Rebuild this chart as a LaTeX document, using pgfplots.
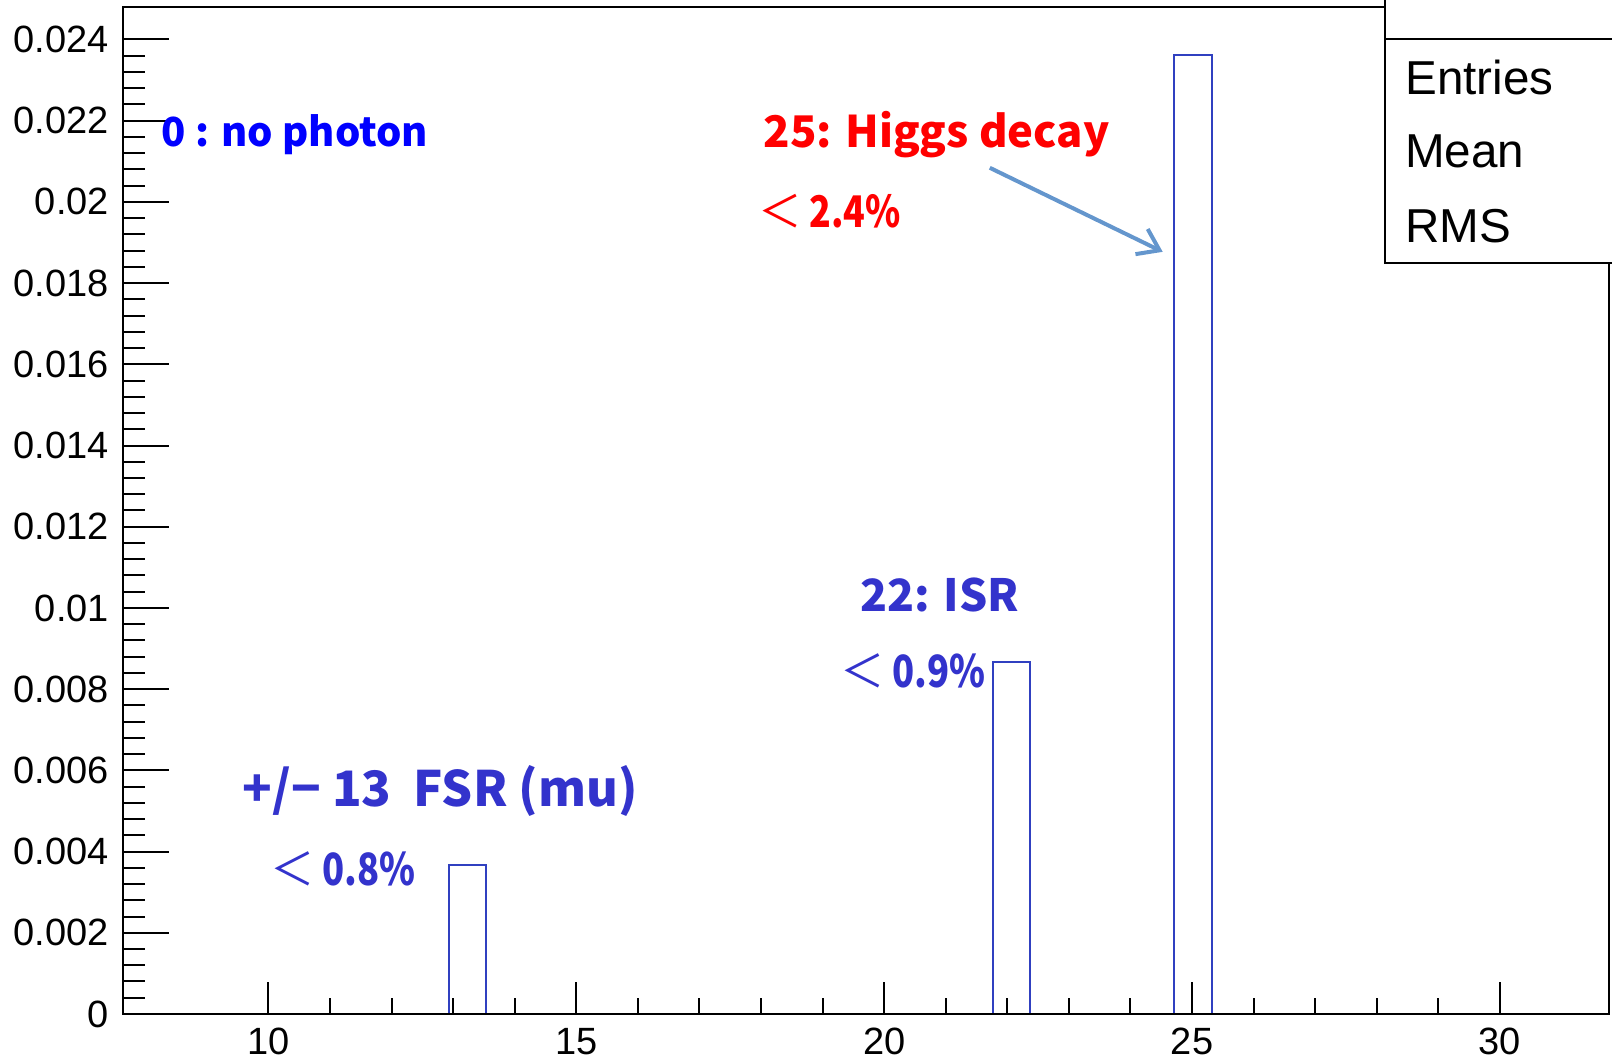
\documentclass[border=0pt]{standalone}
\usepackage{fontspec}
\setmainfont{Liberation Sans}
\newfontfamily\cjk{Noto Sans CJK JP}
\usepackage{graphicx}
\usepackage{pgfplots}
\pgfplotsset{compat=1.18}
\usetikzlibrary{arrows.meta}
\definecolor{barblue}{RGB}{48,64,192}
\definecolor{annblue}{RGB}{51,51,204}
\definecolor{arrowblue}{RGB}{100,150,205}

\begin{document}
\begin{tikzpicture}
\pgfplotsset{
 base/.style={
  scale only axis, width=371.5pt, height=251.75pt,
  xmin=7.64, xmax=31.77, ymin=0, ymax=0.0248,
  axis line style={line width=0.5pt},
  tick style={line width=0.5pt, black},
  tick align=inside, tick pos=left,
  ticklabel style={font=\fontsize{9.5}{10}\selectfont},
  scaled x ticks=false, scaled y ticks=false,
  /pgf/number format/assume math mode=true,
  clip=false,
 }}
\begin{axis}[base, name=ax,
  xtick=\empty,
  ytick={0,0.002,0.004,0.006,0.008,0.01,0.012,0.014,0.016,0.018,0.02,0.022,0.024},
  yticklabels={0,0.002,0.004,0.006,0.008,0.01,0.012,0.014,0.016,0.018,0.02,0.022,0.024},
  minor y tick num=4,
  major tick length=11.5pt, minor tick length=5.5pt,
]
\addplot[ybar, bar width=0.61, bar shift=0pt, draw=barblue, fill=none, line width=0.5pt]
  coordinates {(13.235,0.00367) (22.065,0.00866) (25.015,0.02361)};

\node[inner sep=0pt, anchor=base west, text=blue, font=\cjk\bfseries\fontsize{10}{12}\selectfont]
  at (axis cs:8.257,0.02136) {0 : no photon};
\node[inner sep=0pt, anchor=base west, text=red, font=\cjk\bfseries\fontsize{10.9}{12}\selectfont]
  at (axis cs:18.03,0.02134) {25: Higgs decay};
\node[inner sep=0pt, anchor=base west, text=red, font=\cjk\bfseries\fontsize{10.9}{12}\selectfont]
  at (axis cs:17.95,0.01936) {{\mdseries ＜}\,\scalebox{0.82}[1]{2.4\%}};
\node[inner sep=0pt, anchor=base west, text=annblue, font=\cjk\bfseries\fontsize{11.1}{12}\selectfont]
  at (axis cs:19.604,0.0099) {22: ISR};
\node[inner sep=0pt, anchor=base west, text=annblue, font=\cjk\bfseries\fontsize{11.1}{12}\selectfont]
  at (axis cs:19.28,0.00803) {{\mdseries ＜}\,\scalebox{0.82}[1]{0.9\%}};
\node[inner sep=0pt, anchor=base west, text=annblue, font=\cjk\bfseries\fontsize{12.2}{12}\selectfont]
  at (axis cs:9.572,0.00511) {+/− 13\ \ FSR (mu)};
\node[inner sep=0pt, anchor=base west, text=annblue, font=\cjk\bfseries\fontsize{11.1}{12}\selectfont]
  at (axis cs:10.03,0.00317) {{\mdseries ＜}\,\scalebox{0.82}[1]{0.8\%}};
\draw[arrowblue, line width=1pt, -{Straight Barb[length=5pt,width=7pt]}]
  (axis cs:21.715,0.02084) -- (axis cs:24.523,0.01877);

\coordinate (bl) at (axis cs:28.127,0.0185);
\coordinate (tr) at (axis cs:33,0.0252);
\coordinate (sep) at (axis cs:28.127,0.02402);
\coordinate (t1) at (axis cs:28.45,0.02264);
\coordinate (t2) at (axis cs:28.45,0.02084);
\coordinate (t3) at (axis cs:28.45,0.01899);
\end{axis}
\begin{axis}[base,
  ytick=\empty,
  xtick={10,15,20,25,30}, xticklabels={10,15,20,25,30},
  minor x tick num=4,
  major tick length=8pt, minor tick length=4.1pt,
]
\end{axis}
\filldraw[fill=white, draw=black, line width=0.5pt] (bl) rectangle (tr);
\draw[line width=0.5pt] (sep) -- (sep -| tr);
\node[inner sep=0pt, anchor=base west, font=\fontsize{11.9}{12}\selectfont] at (t1) {Entries};
\node[inner sep=0pt, anchor=base west, font=\fontsize{11.9}{12}\selectfont] at (t2) {Mean};
\node[inner sep=0pt, anchor=base west, font=\fontsize{11.9}{12}\selectfont] at (t3) {RMS};
\pgfresetboundingbox
\path[use as bounding box] ([xshift=-30.75pt,yshift=-11.25pt]ax.south west) rectangle ([xshift=0.75pt,yshift=1.75pt]ax.north east);
\end{tikzpicture}
\end{document}
